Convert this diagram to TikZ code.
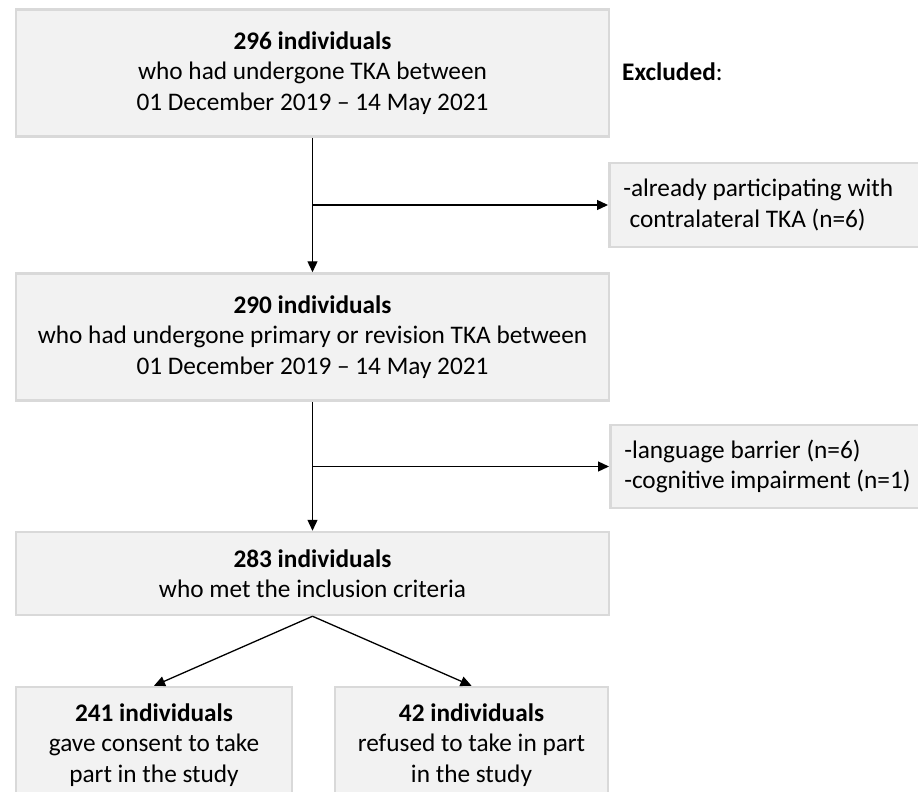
\documentclass[tikz,border=0pt]{standalone}
\usepackage{fontspec}
\setmainfont{Carlito}
\usetikzlibrary{arrows.meta,positioning}

\definecolor{boxfill}{HTML}{F2F2F2}
\definecolor{boxline}{HTML}{D9D9D9}

\begin{document}
\begin{tikzpicture}[x=1pt,y=-1pt,
    box/.style={draw=boxline,fill=boxfill,line width=2.5pt,align=center,
      inner sep=0pt,font=\fontsize{25.3}{30.5}\selectfont},
    excl/.style={box,anchor=west,align=flush left,inner xsep=14pt,text width=289pt},
    arr/.style={-{Triangle[length=11pt,width=10pt]},line width=1.3pt}]
    \clip (0,0) rectangle (918,792);
    \fill[white] (0,0) rectangle (918,792);

    \node[box,minimum width=593pt,minimum height=127pt] (n296) at (312.5,73)
      {\textbf{296 individuals}\\who had undergone TKA between\\01 December 2019 -- 14 May 2021};
    \node[box,minimum width=593pt,minimum height=127pt] (n290) at (312.5,337)
      {\textbf{290 individuals}\\who had undergone primary or revision TKA between\\01 December 2019 -- 14 May 2021};
    \node[box,minimum width=593pt,minimum height=83pt] (n283) at (312.5,573.5)
      {\textbf{283 individuals}\\who met the inclusion criteria};
    \node[box,minimum width=276pt,minimum height=116pt] (n241) at (154,745)
      {\textbf{241 individuals}\\gave consent to take\\part in the study};
    \node[box,minimum width=273pt,minimum height=116pt] (n42) at (471.5,745)
      {\textbf{42 individuals}\\refused to take in part\\in the study};

    % exclusions
    \node[anchor=west,inner sep=0pt,font=\fontsize{25.3}{30.5}\selectfont] (exlabel) at (622,72)
      {\textbf{Excluded}:};
    \node[excl,minimum height=84pt] (ex1) at (608,205)
      {-already participating with\\\hspace{0.25em}contralateral TKA (n=6)};
    \node[excl,minimum height=83pt] (ex2) at (609,466.5)
      {-language barrier (n=6)\\-cognitive impairment (n=1)};

    \draw[arr] (n296.south) -- (n290.north);
    \draw[arr] (n296.south |- ex1.west) -- (ex1.west);
    \draw[arr] (n290.south) -- (n283.north);
    \draw[arr] (n290.south |- ex2.west) -- (ex2.west);
    \foreach \to in {n241,n42}
    \draw[arr] (n283.south) -- (\to.north);
\end{tikzpicture}
\end{document}
